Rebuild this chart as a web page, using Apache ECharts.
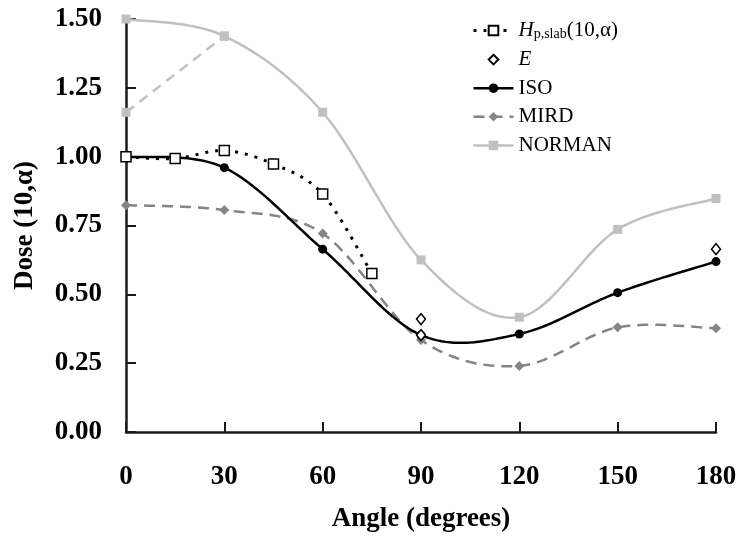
<!DOCTYPE html>
<html>
<head>
<meta charset="utf-8">
<script src="https://cdn.jsdelivr.net/npm/echarts@6/dist/echarts.min.js"></script>
<style>
  html, body { margin: 0; padding: 0; background: #fff; }
  #chartDom { width: 740px; height: 542px; }
</style>
</head>
<body>
<div id="chartDom"></div>
<script>
// angles (degrees) and dose values
var hpAngles = [0, 15, 30, 45, 60, 75];
var hpValues = [1.00, 0.993, 1.022, 0.973, 0.864, 0.576];

var eAngles = [90, 90, 180];
var eValues = [0.41, 0.352, 0.664];

var angles = [0, 30, 60, 90, 120, 150, 180];
var isoValues = [1.00, 0.96, 0.664, 0.352, 0.356, 0.506, 0.619];
var mirdValues = [0.824, 0.806, 0.721, 0.334, 0.24, 0.38, 0.377];
var normanValues = [1.50, 1.438, 1.161, 0.625, 0.417, 0.736, 0.848];

var normanAltAngles = [0, 30];
var normanAltValues = [1.161, 1.438];

var xTicks = [0, 30, 60, 90, 120, 150, 180];
var yTicks = [0, 0.25, 0.5, 0.75, 1.0, 1.25, 1.5];

function pairs(xs, ys) {
    var out = [];
    for (var i = 0; i < xs.length; i++) {
        out.push([xs[i], ys[i]]);
    }
    return out;
}

// spreadsheet-style smoothed line (cardinal spline, 1/6 tension) through the
// points after they are mapped by the axes
function curve(name, xs, ys, color, width, dash) {
    return {
        name: name,
        type: 'custom',
        silent: true,
        data: pairs(xs, ys),
        encode: { x: 0, y: 1 },
        renderItem(params, api) {
            if (params.dataIndex !== 0) return;
            var p = [];
            for (var i = 0; i < xs.length; i++) p.push(api.coord([xs[i], ys[i]]));
            var n = p.length;
            var pts = [p[0]];
            for (var k = 0; k < n - 1; k++) {
                var a = p[Math.max(k - 1, 0)], b = p[k], c = p[k + 1], d = p[Math.min(k + 2, n - 1)];
                var c1 = [b[0] + (c[0] - a[0]) / 6, b[1] + (c[1] - a[1]) / 6];
                var c2 = [c[0] - (d[0] - b[0]) / 6, c[1] - (d[1] - b[1]) / 6];
                for (var s = 1; s <= 24; s++) {
                    var t = s / 24, u = 1 - t;
                    pts.push([
                        u * u * u * b[0] + 3 * u * u * t * c1[0] + 3 * u * t * t * c2[0] + t * t * t * c[0],
                        u * u * u * b[1] + 3 * u * u * t * c1[1] + 3 * u * t * t * c2[1] + t * t * t * c[1]
                    ]);
                }
            }
            return {
                type: 'polyline',
                shape: { points: pts },
                style: { stroke: color, lineWidth: width, lineDash: dash, fill: 'none' }
            };
        }
    };
}

// markers only, the curve itself comes from curve()
function markers(name, xs, ys, symbol, size, itemStyle) {
    return {
        name: name,
        type: 'line',
        data: pairs(xs, ys),
        symbol: symbol,
        symbolSize: size,
        itemStyle: itemStyle,
        lineStyle: { opacity: 0 }
    };
}

var serif = 'Liberation Serif';
var chartDom = echarts.init(document.getElementById('chartDom'));

chartDom.setOption({
    animation: false,
    backgroundColor: '#fff',
    grid: {
        left: 126,
        right: 24,
        top: 19,
        bottom: 110
    },
    legend: {
        orient: 'vertical',
        left: 467,
        top: 15,
        itemWidth: 40,
        itemHeight: 12,
        itemGap: 7.6,
        data: [
            { name: 'Hp', lineStyle: { color: '#000', width: 3, type: [3, 7], opacity: 1 } },
            { name: 'E' },
            { name: 'ISO', lineStyle: { color: '#000', width: 2.5, type: 'solid', opacity: 1 } },
            { name: 'MIRD', lineStyle: { color: '#858585', width: 2.5, type: [11, 7], opacity: 1 } },
            { name: 'NORMAN', lineStyle: { color: '#c0c0c0', width: 2.5, type: 'solid', opacity: 1 } }
        ],
        formatter(name) {
            if (name === 'Hp') return '{i|H}{s|p,slab}{n|(10,α)}';
            if (name === 'E') return '{i|E}';
            return '{n|' + name + '}';
        },
        textStyle: {
            fontFamily: serif,
            fontSize: 21,
            color: '#000',
            rich: {
                n: { fontFamily: serif, fontSize: 21, lineHeight: 22, color: '#000' },
                i: { fontFamily: serif, fontSize: 21, lineHeight: 22, fontStyle: 'italic', color: '#000' },
                s: { fontFamily: serif, fontSize: 14, lineHeight: 22, color: '#000', verticalAlign: 'bottom', padding: [6, 0, 0, 0] }
            }
        }
    },
    xAxis: {
        type: 'value',
        min: xTicks[0],
        max: xTicks[xTicks.length - 1],
        interval: 30,
        name: 'Angle (degrees)',
        nameLocation: 'middle',
        nameGap: 74,
        nameTextStyle: { fontFamily: serif, fontSize: 27, fontWeight: 'bold', color: '#000' },
        axisLine: { lineStyle: { color: '#1a1a1a', width: 2.5 } },
        axisTick: { inside: true, length: 10, lineStyle: { color: '#1a1a1a', width: 2 } },
        axisLabel: { margin: 32, fontFamily: serif, fontSize: 27, fontWeight: 'bold', color: '#000' },
        splitLine: { show: false }
    },
    yAxis: {
        type: 'value',
        min: yTicks[0],
        max: yTicks[yTicks.length - 1],
        interval: 0.25,
        name: 'Dose (10,α)',
        nameLocation: 'middle',
        nameGap: 87,
        nameTextStyle: { fontFamily: serif, fontSize: 27, fontWeight: 'bold', color: '#000' },
        axisLine: { show: true, lineStyle: { color: '#1a1a1a', width: 2.5 } },
        axisTick: { show: true, inside: true, length: 10, lineStyle: { color: '#1a1a1a', width: 2 } },
        axisLabel: {
            margin: 24,
            fontFamily: serif,
            fontSize: 27,
            fontWeight: 'bold',
            color: '#000',
            formatter(v) { return v.toFixed(2); }
        },
        splitLine: { show: false }
    },
    series: [{
        name: 'NORMAN alt',
        type: 'line',
        data: pairs(normanAltAngles, normanAltValues),
        symbol: 'rect',
        symbolSize: 9,
        itemStyle: { color: '#c0c0c0' },
        lineStyle: { color: '#c0c0c0', width: 2.5, type: [10, 7] }
    },
    curve('NORMAN curve', angles, normanValues, '#c0c0c0', 2.5, null),
    markers('NORMAN', angles, normanValues, 'rect', 9, { color: '#c0c0c0' }),
    curve('MIRD curve', angles, mirdValues, '#858585', 2.5, [11, 7]),
    markers('MIRD', angles, mirdValues, 'diamond', 10, { color: '#858585' }),
    curve('ISO curve', angles, isoValues, '#000', 2.5, null),
    markers('ISO', angles, isoValues, 'circle', 9, { color: '#000' }),
    curve('Hp curve', hpAngles, hpValues, '#000', 3, [3, 7]),
    markers('Hp', hpAngles, hpValues, 'rect', 10, { color: '#fff', borderColor: '#000', borderWidth: 1.5 }),
    markers('E', eAngles, eValues, 'diamond', [9, 11], { color: '#fff', borderColor: '#000', borderWidth: 1.5 })
    ]
});
</script>
</body>
</html>
